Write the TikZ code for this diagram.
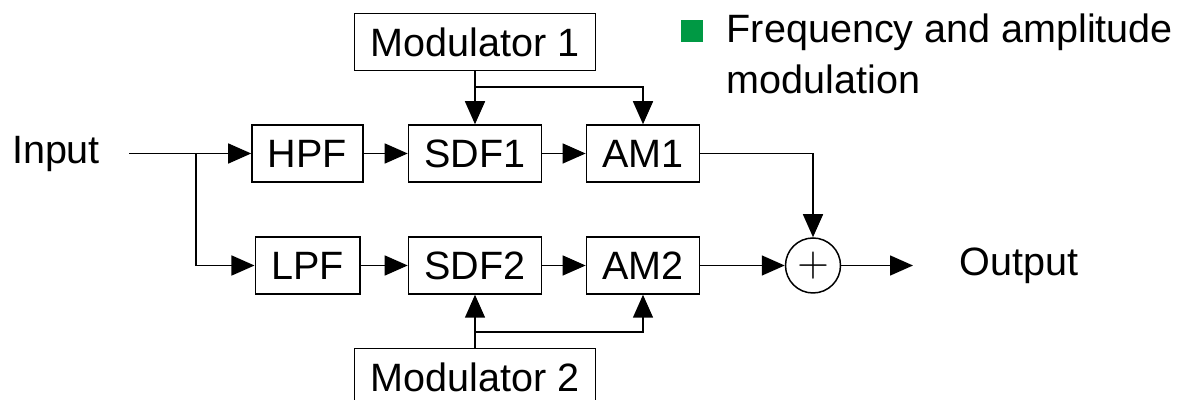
\documentclass[tikz,border=0pt]{standalone}
\usepackage{fontspec}
\setmainfont{Liberation Sans}
\usetikzlibrary{arrows.meta}
\definecolor{bulletgreen}{RGB}{0,153,68}
\newcommand{\diafont}{\fontsize{22.5}{29}\selectfont}

\begin{document}
\begin{tikzpicture}[line width=0.85pt, >={Triangle[length=0.46cm,width=0.4cm]},
    blk/.style={draw, minimum height=1.14cm, inner xsep=0.32cm, font=\diafont},
    lbl/.style={inner sep=0pt, font=\diafont}]
        \useasboundingbox (0,0) rectangle (23.74,8);

        \node[lbl] (in)  at (1.12,4.92) {Input};
        \coordinate (start) at (2.58,4.93);
        \coordinate (split) at (3.92,4.93);

        \node[blk] (hpf)  at (6.15,4.93) {HPF};
        \node[blk] (sdf1) at (9.5,4.93)  {SDF1};
        \node[blk] (am1)  at (12.86,4.93) {AM1};
        \node[blk] (mod1) at (9.5,7.16)  {Modulator 1};
        \coordinate (tap1) at (9.5,6.26);

        \node[blk] (lpf)  at (6.15,2.69) {LPF};
        \node[blk] (sdf2) at (9.5,2.69)  {SDF2};
        \node[blk] (am2)  at (12.86,2.69) {AM2};
        \node[blk] (mod2) at (9.5,0.46)  {Modulator 2};
        \coordinate (tap2) at (9.5,1.36);

        \node[draw,circle,minimum size=1.1cm,inner sep=0pt,font=\fontsize{26}{30}\selectfont] (sum) at (16.26,2.69) {$+$};
        \coordinate (end) at (18.26,2.69);
        \node[lbl,anchor=west] (out) at (19.18,2.69) {Output};

        % legend
        \node[fill=bulletgreen,minimum size=0.44cm,inner sep=0pt] (bullet) at (13.84,7.38) {};
        \node[lbl,anchor=base west,align=left] (note) at (14.52,6.13) {Frequency and amplitude\\modulation};

        \path [->] (start) edge (hpf);
        \path [->] (hpf)   edge (sdf1);
        \path [->] (sdf1)  edge (am1);
        \path [->] (lpf)   edge (sdf2);
        \path [->] (sdf2)  edge (am2);
        \path [->] (am2)   edge (sum);
        \path [->] (sum)   edge (end);
        \path [->] (mod1)  edge (sdf1);
        \path [->] (mod2)  edge (sdf2);
        \draw [->] (split) |- (lpf);
        \draw [->] (tap1) -| (am1);
        \draw [->] (tap2) -| (am2);
        \draw [->] (am1) -| (sum);
    \end{tikzpicture}
\end{document}
